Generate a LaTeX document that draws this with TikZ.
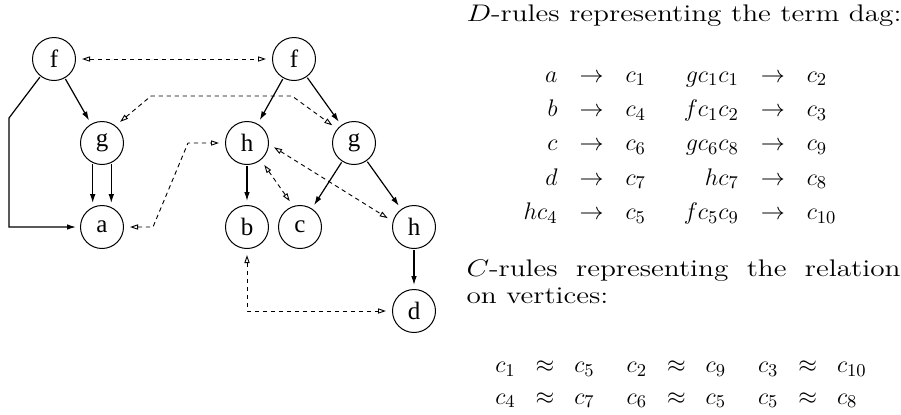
\documentclass[tikz,border=0pt]{standalone}
\usepackage{amsmath,amssymb}
\usepackage{graphicx}
\usepackage{fontspec}
\newfontfamily\labelfont{Liberation Serif}
\usepackage{tikz}
\usetikzlibrary{arrows.meta, positioning, calc}
\tikzset{
    every picture/.style={
        >=stealth,
        line width=0.5pt
    },
    % dag vertices
    vertex/.style={circle,draw,line width=0.5pt,minimum size=21.5pt,inner sep=0pt,font=\labelfont\fontsize{12.5}{13}\selectfont},
    % flow styles
    dagedge/.style={-{Latex[length=4.5pt,width=2.8pt]},line width=0.6pt,shorten >=2pt,shorten <=0.5pt},
    reledge/.style={{Triangle[open,length=4pt,width=2.6pt]}-{Triangle[open,length=4pt,width=2.6pt]},dash pattern=on 2.2pt off 1.8pt,line width=0.45pt,shorten >=3pt,shorten <=3pt},
    rulestext/.style={inner sep=0pt,font=\fontsize{12}{13.6}\selectfont},
    rulesmath/.style={inner sep=0pt,font=\fontsize{12.5}{13.6}\selectfont}
}
% wide setting of the rule texts
\newcommand{\widetext}[1]{\scalebox{1.22}[1]{#1}}

\begin{document}
\begin{tikzpicture}[x=0.5pt, y=-0.5pt]
    \useasboundingbox (0,0) rectangle (901,414);

    % Left term
    \node[vertex] (f1) at (54,59) {f};
    \node[vertex] (g1) at (102,143) {g};
    \node[vertex] (a) at (102,227) {a};

    % Right term
    \node[vertex] (f2) at (294,59) {f};
    \node[vertex] (h1) at (247,143) {h};
    \node[vertex] (g2) at (354,143) {g};
    \node[vertex] (b) at (247,227) {b};
    \node[vertex] (c) at (300,227) {c};
    \node[vertex] (h2) at (414,227) {h};
    \node[vertex] (d) at (414,311) {d};

    % Dag edges
    \draw[dagedge] (f1) -- (g1);
    \draw[dagedge] (f1.232) -- (9,118) |- (a);
    \draw[dagedge] (g1.245) -- (a.115);
    \draw[dagedge] (g1.295) -- (a.65);
    \draw[dagedge] (f2) -- (h1);
    \draw[dagedge] (f2) -- (g2);
    \draw[dagedge] (h1) -- (b);
    \draw[dagedge] (g2) -- (c);
    \draw[dagedge] (g2) -- (h2);
    \draw[dagedge] (h2) -- (d);

    % Relation on vertices
    \draw[reledge] (f1) -- (f2);
    \draw[reledge] (g1.52) -- (151,96) -- (292,96) -- (g2.140);
    \draw[reledge] (a.east) -- (153,227) -- (188,143) -- (h1.west);
    \draw[reledge] (h1.-51) -- (c.108);
    \draw[reledge] (h1.-3) -- (h2.165);
    \draw[reledge] (b) |- (d);

    % D-rules
    \node[rulestext, anchor=base west] (dhead) at (466,21.5) {\widetext{$D$-rules representing the term dag:}};
    \node[rulesmath] (drules) at (680,144) {%
        \arraycolsep=5.5pt\renewcommand{\arraystretch}{1.26}%
        $\begin{array}{rcl@{\hspace{19pt}}rcl}
            a & \to & c_1 & gc_1c_1 & \to & c_2\\
            b & \to & c_4 & fc_1c_2 & \to & c_3\\
            c & \to & c_6 & gc_6c_8 & \to & c_9\\
            d & \to & c_7 & hc_7 & \to & c_8\\
            hc_4 & \to & c_5 & fc_5c_9 & \to & c_{10}
        \end{array}$};

    % C-rules
    \node[rulestext, anchor=base west] (chead) at (466,276.7)
        {\widetext{\parbox[t]{177.9pt}{\hyphenpenalty=10000 $C$-rules representing the relation on vertices:}}};
    \node[rulesmath] (crules) at (681,382) {%
        \renewcommand{\arraystretch}{1.16}%
        $\begin{array}{rcl@{\hspace{16pt}}rcl@{\hspace{16pt}}rcl}
            c_1 & \approx & c_5 & c_2 & \approx & c_9 & c_3 & \approx & c_{10}\\
            c_4 & \approx & c_7 & c_6 & \approx & c_5 & c_5 & \approx & c_8
        \end{array}$};
\end{tikzpicture}
\end{document}
